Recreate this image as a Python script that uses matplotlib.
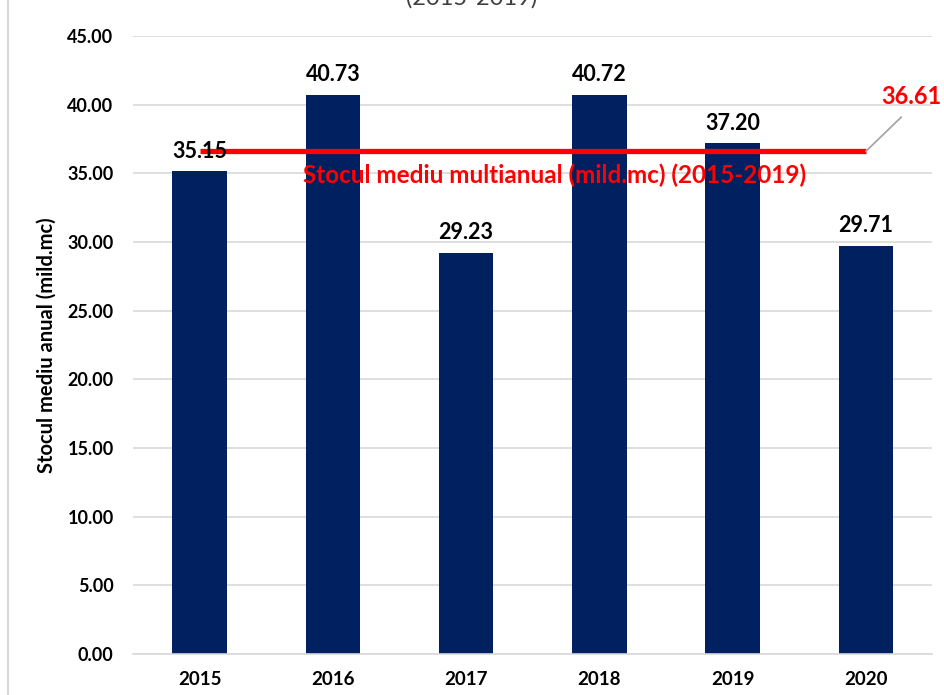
import matplotlib.pyplot as plt
from matplotlib.lines import Line2D

plt.rcParams['font.family'] = ['Lato', 'DejaVu Sans']

years = ['2015', '2016', '2017', '2018', '2019', '2020']
stoc_mediu = [35.15, 40.73, 29.23, 40.72, 37.20, 29.71]
medie_multianuala = 36.61
yticks = [0, 5, 10, 15, 20, 25, 30, 35, 40, 45]

fig = plt.figure(figsize=(9.44, 6.95), dpi=100)
ax = fig.add_axes([0.1409, 0.059, 0.8469, 0.889])

x = list(range(len(years)))
ax.bar(x, stoc_mediu, width=0.41, color='#002060', zorder=2)

for xi, v in zip(x, stoc_mediu):
    ax.annotate(f'{v:.2f}', (xi, v), xytext=(0, 7), textcoords='offset points',
                ha='center', va='bottom', fontsize=15.5, fontweight='bold', color='black', zorder=4)

# average line across the period
ax.plot([x[0], x[-1]], [medie_multianuala] * 2, color='#ff0000', lw=3.8, zorder=3,
        solid_capstyle='butt')
ax.annotate(f'{medie_multianuala:.2f}', xy=(x[-1], medie_multianuala), xytext=(x[-1] + 0.34, 39.8),
            ha='center', va='bottom', fontsize=17, fontweight='bold', color='#ff0000',
            arrowprops=dict(arrowstyle='-', color='#a6a6a6', lw=1.3, shrinkA=7, shrinkB=0,
                            relpos=(0.5, 0.0)))
ax.text(2.66, 34.85, 'Stocul mediu multianual (mild.mc) (2015-2019)', ha='center', va='center',
        fontsize=17.5, fontweight='bold', color='#ff0000', zorder=4)

ax.set_xlim(-0.5, len(years) - 0.5)
ax.set_ylim(0, 45)
ax.set_xticks(x)
ax.set_xticklabels(years, fontsize=13.5, fontweight='bold')
ax.set_yticks(yticks)
ax.set_yticklabels([f'{t:.2f}' for t in yticks], fontsize=13, fontweight='bold')
ax.tick_params(length=0, pad=14)
ax.tick_params(axis='x', pad=12)
ax.grid(axis='y', color='#d9d9d9', lw=1.2, zorder=0)
ax.set_axisbelow(True)
for side in ['top', 'right', 'left']:
    ax.spines[side].set_visible(False)
ax.spines['bottom'].set_color('#d9d9d9')
ax.spines['bottom'].set_linewidth(1.2)
ax.set_ylabel('Stocul mediu anual (mild.mc)', fontsize=14.5, fontweight='bold', labelpad=8)

# chart frame edge and clipped title
fig.add_artist(Line2D([0.0085, 0.0085], [0, 1], color='#d9d9d9', lw=1.5))
fig.text(0.5, 1.003, '(2015-2019)', ha='center', va='center', fontsize=17, color='#404040')

fig.savefig('out.png', dpi=100)
